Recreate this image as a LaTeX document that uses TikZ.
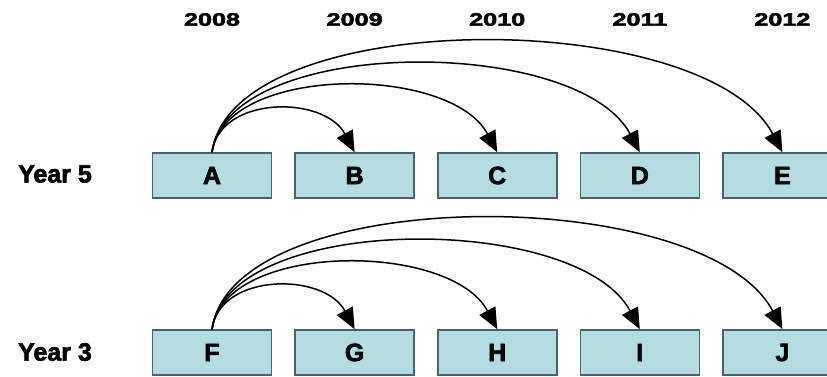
\documentclass[tikz,border=0pt]{standalone}
\usepackage{fontspec}
\setmainfont{Liberation Sans}[BoldFeatures={FakeBold=2.5}]
\usetikzlibrary{arrows.meta}

\definecolor{boxfill}{RGB}{180,221,227}
\definecolor{boxline}{RGB}{72,100,106}

\tikzset{
	yearbox/.style={draw=boxline, fill=boxfill, line width=1.6pt, minimum width=119pt, minimum height=45pt, inner sep=0pt, font=\bfseries\fontsize{25}{25}\selectfont},
	rowlabel/.style={font=\bfseries\fontsize{25}{25}\selectfont},
	collabel/.style={font=\bfseries\fontsize{18}{18}\selectfont},
	jump/.style={-{Triangle[length=21pt,width=18pt]}, line width=1.5pt},
}

\begin{document}
\begin{tikzpicture}[
		x=1pt, y=1pt,
		declare function = {
				gap = 142.6;
				xa = 212;
			},
	]
	\useasboundingbox (0,0) rectangle (827,376);
	% years
	\foreach \yr [count=\i from 0] in {2008,2009,2010,2011,2012}
		\node[collabel] (y\yr) at ({xa+\i*gap},356.5) {\scalebox{1.4}[1]{\yr}};
	\node[rowlabel] (row5) at (55,202) {Year 5};
	\node[rowlabel] (row3) at (55,24) {Year 3};
	% boxes
	\foreach \t [count=\i from 0] in {A,B,C,D,E}
		\node[yearbox] (\t) at ({xa+\i*gap},200.5) {\t};
	\foreach \t [count=\i from 0] in {F,G,H,I,J}
		\node[yearbox] (\t) at ({xa+\i*gap},23.5) {\t};
	% links
	\foreach \s/\t/\h in {A/B/57,A/C/88,A/D/117,A/E/147,F/G/57,F/H/88,F/I/117,F/J/147}
		\draw[jump] (\s.north) .. controls +(82:{\h/sin(82)}) and +(118:{\h/sin(118)}) .. (\t.north);
\end{tikzpicture}
\end{document}
